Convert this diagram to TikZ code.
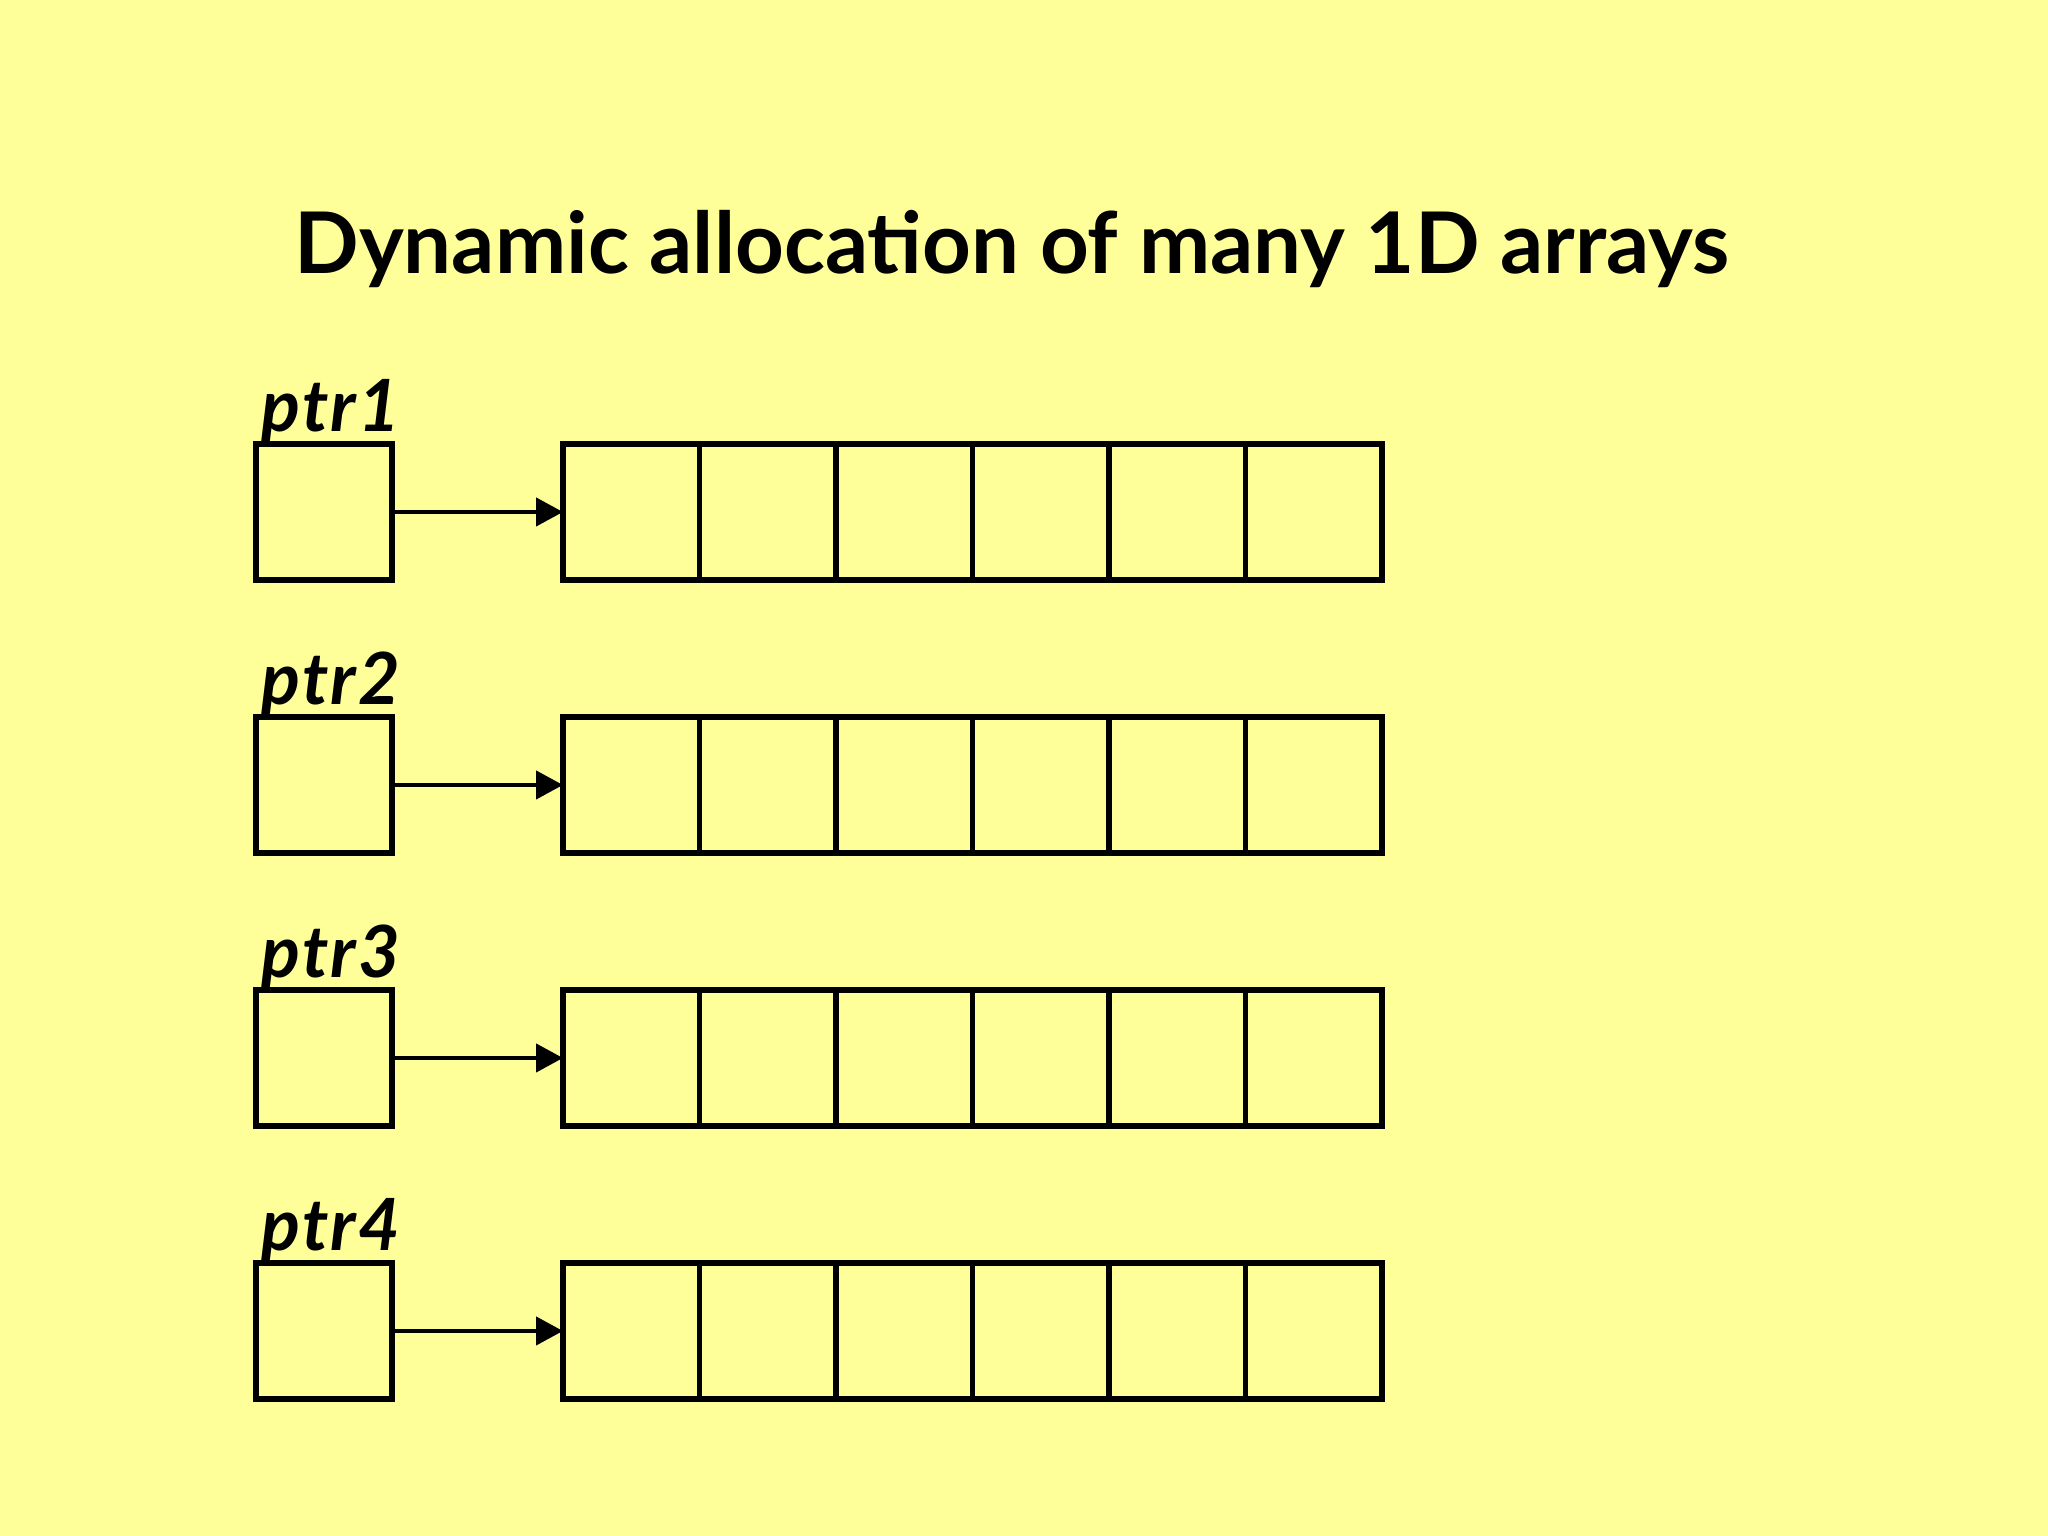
\documentclass[tikz,border=0pt]{standalone}
\usepackage{fontspec}
\setmainfont{Lato}
\usetikzlibrary{arrows.meta}
\definecolor{bgyellow}{RGB}{255,255,153}
\tikzset{
  ptrbox/.style={draw=black, line width=0.052cm, minimum width=1.36cm, minimum height=1.36cm, inner sep=0pt, outer sep=0pt},
  cellbox/.style={draw=black, line width=0.052cm, minimum width=1.365cm, minimum height=1.36cm, inner sep=0pt, outer sep=0pt},
  ptrlabel/.style={anchor=base west, inner sep=0pt, font=\fontsize{20.5}{24}\selectfont\bfseries\itshape\addfontfeature{LetterSpace=3}},
  link/.style={draw=black, line width=0.045cm, -{Triangle[length=0.27cm,width=0.28cm]}}
}
\begin{document}
\begin{tikzpicture}[x=1cm,y=1cm]
\fill[bgyellow] (0,0) rectangle (20.48,15.36);
\useasboundingbox (0,0) rectangle (20.48,15.36);
\node[anchor=base, inner sep=0pt, font=\fontsize{24.2}{29}\selectfont\bfseries] (title) at (10.12,15.36-2.74) {Dynamic allocation of many 1D arrays};
\foreach \r in {1,2,3,4}{
  \pgfmathsetmacro{\yc}{15.36-(4.44+2.73*(\r-1)+0.68)}
  \node[ptrbox] (p\r) at (3.24,\yc) {};
  \node[ptrlabel] (l\r) at (2.61,\yc+0.68+0.12) {ptr\r};
  \foreach \c in {1,...,6}{
    \node[cellbox] (a\r\c) at ({5.63+1.365*(\c-0.5)},\yc) {};
  }
  \draw[link] (p\r.east) -- (a\r1.west);
}
\end{tikzpicture}
\end{document}
